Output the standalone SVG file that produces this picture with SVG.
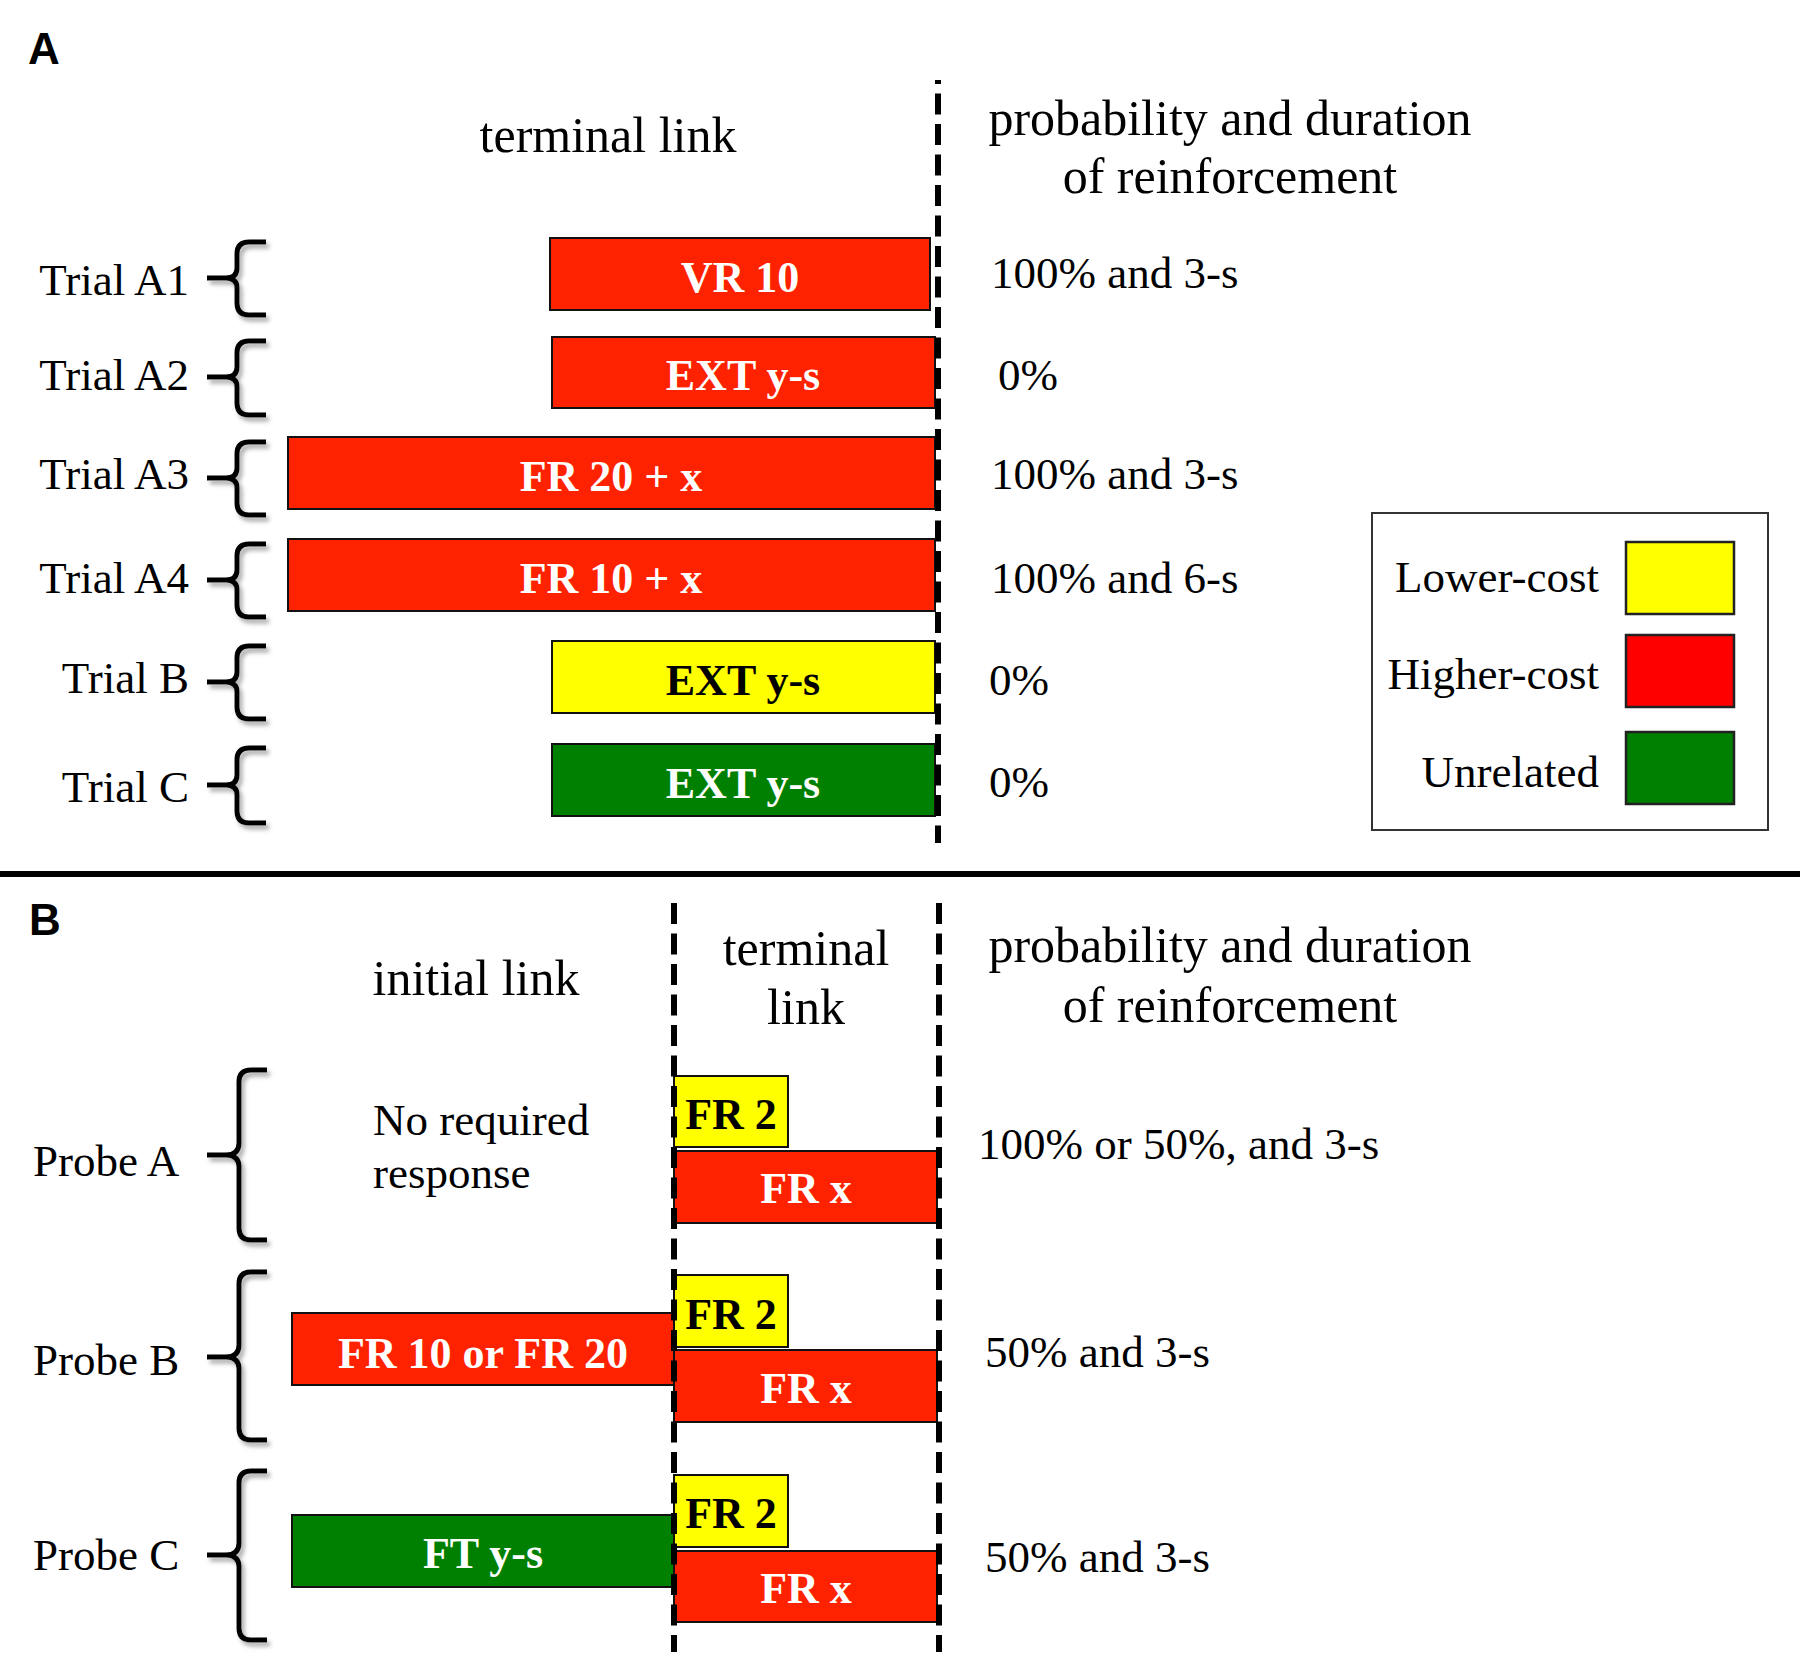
<svg xmlns="http://www.w3.org/2000/svg" width="1800" height="1654" viewBox="0 0 1800 1654">
<style>
.serif{font-family:"Liberation Serif","Times New Roman",serif;fill:#000}
.lbl{font-size:45px}
.hdr{font-size:50px;text-anchor:middle}
.val{font-size:45px}
.bt{font-family:"Liberation Serif","Times New Roman",serif;font-weight:bold;font-size:44px;text-anchor:middle}
.w{fill:#fff}
.k{fill:#000}
.panel{font-family:"Liberation Sans",Arial,sans-serif;font-weight:bold;font-size:44px;fill:#000}
.red{fill:#FF2200;stroke:#111;stroke-width:2}
.yel{fill:#FFFF00;stroke:#111;stroke-width:2}
.grn{fill:#008000;stroke:#111;stroke-width:2}
.lred{fill:#FF0000;stroke:#222;stroke-width:2.5}
.lyel{fill:#FFFF00;stroke:#222;stroke-width:2.5}
.lgrn{fill:#008000;stroke:#222;stroke-width:2.5}
.brace{fill:none;stroke:#000;stroke-width:5;stroke-linecap:butt;stroke-linejoin:round;filter:url(#sh)}
.dash{stroke:#000;stroke-width:6;stroke-dasharray:21 9.5;fill:none}
</style>
<defs>
<filter id="sh" x="-50%" y="-20%" width="200%" height="140%">
<feDropShadow dx="3" dy="4" stdDeviation="2" flood-color="#888" flood-opacity="0.7"/>
</filter>
</defs>
<rect width="1800" height="1654" fill="#fff"/>

<!-- Panel A -->
<text class="panel" x="28" y="64">A</text>
<text class="serif hdr" x="608" y="152">terminal link</text>
<text class="serif hdr" x="1230" y="135">probability and duration</text>
<text class="serif hdr" x="1230" y="193">of reinforcement</text>

<g id="trialA1">
<text class="serif lbl" x="189" y="295" text-anchor="end">Trial A1</text>
<path class="brace" d="M266,242 L249,242 Q237,242 237,254 L237,268 Q237,278 226,278 L207,278 M226,278 Q237,278 237,288 L237,303 Q237,315 249,315 L266,315"/>
<rect class="red" x="550" y="238" width="380" height="72"/>
<text class="bt w" x="740" y="292">VR 10</text>
<text class="serif val" x="991" y="288">100% and 3-s</text>
</g>
<g id="trialA2">
<text class="serif lbl" x="189" y="390" text-anchor="end">Trial A2</text>
<path class="brace" d="M266,341 L249,341 Q237,341 237,353 L237,367 Q237,377 226,377 L207,377 M226,377 Q237,377 237,387 L237,403 Q237,415 249,415 L266,415"/>
<rect class="red" x="552" y="337" width="383" height="71"/>
<text class="bt w" x="743" y="390">EXT y-s</text>
<text class="serif val" x="998" y="390">0%</text>
</g>
<g id="trialA3">
<text class="serif lbl" x="189" y="489" text-anchor="end">Trial A3</text>
<path class="brace" d="M266,442 L249,442 Q237,442 237,454 L237,468 Q237,478 226,478 L207,478 M226,478 Q237,478 237,488 L237,503 Q237,515 249,515 L266,515"/>
<rect class="red" x="288" y="437" width="647" height="72"/>
<text class="bt w" x="611" y="491">FR 20 + x</text>
<text class="serif val" x="991" y="489">100% and 3-s</text>
</g>
<g id="trialA4">
<text class="serif lbl" x="189" y="593" text-anchor="end">Trial A4</text>
<path class="brace" d="M266,544 L249,544 Q237,544 237,556 L237,570 Q237,580 226,580 L207,580 M226,580 Q237,580 237,590 L237,605 Q237,617 249,617 L266,617"/>
<rect class="red" x="288" y="539" width="647" height="72"/>
<text class="bt w" x="611" y="593">FR 10 + x</text>
<text class="serif val" x="991" y="593">100% and 6-s</text>
</g>
<g id="trialB">
<text class="serif lbl" x="189" y="693" text-anchor="end">Trial B</text>
<path class="brace" d="M266,646 L249,646 Q237,646 237,658 L237,672 Q237,682 226,682 L207,682 M226,682 Q237,682 237,692 L237,707 Q237,719 249,719 L266,719"/>
<rect class="yel" x="552" y="641" width="383" height="72"/>
<text class="bt k" x="743" y="695">EXT y-s</text>
<text class="serif val" x="989" y="695">0%</text>
</g>
<g id="trialC">
<text class="serif lbl" x="189" y="802" text-anchor="end">Trial C</text>
<path class="brace" d="M266,748 L249,748 Q237,748 237,760 L237,775 Q237,785 226,785 L207,785 M226,785 Q237,785 237,795 L237,811 Q237,823 249,823 L266,823"/>
<rect class="grn" x="552" y="744" width="383" height="72"/>
<text class="bt w" x="743" y="798">EXT y-s</text>
<text class="serif val" x="989" y="797">0%</text>
</g>

<g id="legend">
<rect x="1372" y="513" width="396" height="317" fill="#fff" stroke="#333" stroke-width="2"/>
<text class="serif val" x="1599" y="592" text-anchor="end">Lower-cost</text>
<rect class="lyel" x="1626" y="542" width="108" height="72"/>
<text class="serif val" x="1599" y="689" text-anchor="end">Higher-cost</text>
<rect class="lred" x="1626" y="635" width="108" height="72"/>
<text class="serif val" x="1599" y="787" text-anchor="end">Unrelated</text>
<rect class="lgrn" x="1626" y="732" width="108" height="72"/>
</g>

<line x1="0" y1="874" x2="1800" y2="874" stroke="#000" stroke-width="6"/>

<!-- Panel B -->
<text class="panel" x="29" y="935">B</text>
<text class="serif hdr" x="476" y="995">initial link</text>
<text class="serif hdr" x="806" y="965">terminal</text>
<text class="serif hdr" x="806" y="1024">link</text>
<text class="serif hdr" x="1230" y="962">probability and duration</text>
<text class="serif hdr" x="1230" y="1022">of reinforcement</text>

<g id="probeA">
<text class="serif lbl" x="33" y="1176">Probe A</text>
<path class="brace" d="M267,1070 L251,1070 Q239,1070 239,1082 L239,1143 Q239,1155 226,1155 L207,1155 M226,1155 Q239,1155 239,1167 L239,1228 Q239,1240 251,1240 L267,1240"/>
<text class="serif lbl" x="373" y="1135">No required</text>
<text class="serif lbl" x="373" y="1188">response</text>
<rect class="yel" x="674" y="1076" width="114" height="71"/>
<text class="bt k" x="731" y="1129">FR 2</text>
<rect class="red" x="674" y="1151" width="263" height="72"/>
<text class="bt w" x="806" y="1203">FR x</text>
<text class="serif val" x="978" y="1159">100% or 50%, and 3-s</text>
</g>
<g id="probeB">
<text class="serif lbl" x="33" y="1375">Probe B</text>
<path class="brace" d="M267,1272 L251,1272 Q239,1272 239,1284 L239,1345 Q239,1357 226,1357 L207,1357 M226,1357 Q239,1357 239,1369 L239,1428 Q239,1440 251,1440 L267,1440"/>
<rect class="red" x="292" y="1313" width="382" height="72"/>
<text class="bt w" x="483" y="1368">FR 10 or FR 20</text>
<rect class="yel" x="674" y="1275" width="114" height="72"/>
<text class="bt k" x="731" y="1329">FR 2</text>
<rect class="red" x="674" y="1350" width="263" height="72"/>
<text class="bt w" x="806" y="1403">FR x</text>
<text class="serif val" x="985" y="1367">50% and 3-s</text>
</g>
<g id="probeC">
<text class="serif lbl" x="33" y="1570">Probe C</text>
<path class="brace" d="M267,1471 L251,1471 Q239,1471 239,1483 L239,1543 Q239,1555 226,1555 L207,1555 M226,1555 Q239,1555 239,1567 L239,1628 Q239,1640 251,1640 L267,1640"/>
<rect class="grn" x="292" y="1515" width="382" height="72"/>
<text class="bt w" x="483" y="1568">FT y-s</text>
<rect class="yel" x="674" y="1475" width="114" height="72"/>
<text class="bt k" x="731" y="1528">FR 2</text>
<rect class="red" x="674" y="1551" width="263" height="71"/>
<text class="bt w" x="806" y="1603">FR x</text>
<text class="serif val" x="985" y="1572">50% and 3-s</text>
</g>

<g id="connectors">
<line class="dash" x1="938" y1="80" x2="938" y2="843" stroke-dashoffset="17"/>
<line class="dash" x1="674" y1="903" x2="674" y2="1652"/>
<line class="dash" x1="939" y1="903" x2="939" y2="1652"/>
</g>
</svg>
